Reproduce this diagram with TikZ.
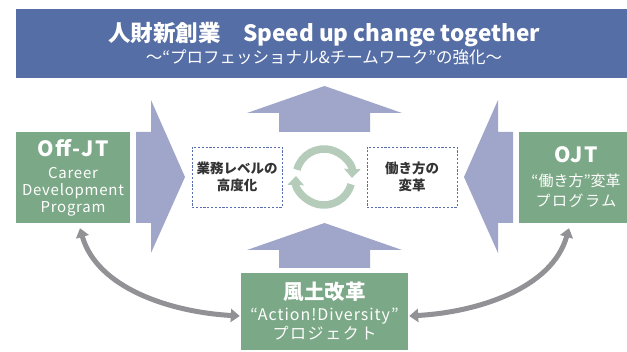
\documentclass[tikz,border=0pt]{standalone}
\usepackage{fontspec}
\setmainfont{Noto Sans CJK JP}
\usetikzlibrary{arrows.meta}
\definecolor{titleblue}{RGB}{86,110,166}
\definecolor{lav}{RGB}{160,166,202}
\definecolor{boxgreen}{RGB}{123,168,134}
\definecolor{ringgreen}{RGB}{181,204,186}
\definecolor{grayarr}{RGB}{145,145,150}
\definecolor{dashblue}{RGB}{90,110,175}
\definecolor{darktext}{RGB}{51,51,51}
\tikzset{
  greenbox/.style={fill=boxgreen, text=white, align=center, inner sep=0pt},
  dashbox/.style={draw=dashblue, line width=0.8pt, dash pattern=on 2.2pt off 1.6pt,
    minimum width=90pt, minimum height=60pt, align=center, text=darktext,
    font=\fontsize{13.5}{17}\selectfont\bfseries},
  blockarrow/.style={fill=lav},
  ringarrow/.style={draw=ringgreen, line width=7.5pt, -{Triangle[width=16pt,length=9pt]}},
  swoop/.style={draw=grayarr, line width=5pt, {Triangle[width=13pt,length=9pt]}-{Triangle[width=13pt,length=9pt]}},
}
\begin{document}
\begin{tikzpicture}[x=1pt,y=-1pt]
\useasboundingbox (0,0) rectangle (627,352);
\clip (0,0) rectangle (627,352);
% title banner
\node[fill=titleblue, text=white, align=center, minimum width=616pt, minimum height=69pt, inner sep=0pt,
  font=\fontsize{16.5}{21}\selectfont]
  (title) at (324,43.5)
  {{\fontsize{22.5}{24}\selectfont\bfseries 人財新創業\quad Speed up change together}\\[1pt]
   〜“プロフェッショナル\&チームワーク”の強化〜};
% block arrows
\fill[blockarrow] (136,132) -- (151,132) -- (151,100) -- (185,177) -- (151,253) -- (151,223) -- (136,223) -- cycle;
\fill[blockarrow] (513,132) -- (498,132) -- (498,100) -- (464,177) -- (498,253) -- (498,223) -- (513,223) -- cycle;
\fill[blockarrow] (279,132) -- (279,113) -- (247,113) -- (324.5,86) -- (402,113) -- (370,113) -- (370,132) -- cycle;
\fill[blockarrow] (279,268) -- (279,250) -- (247,250) -- (324.5,223) -- (402,250) -- (370,250) -- (370,268) -- cycle;
% green boxes
\node[greenbox, minimum width=114pt, minimum height=91pt,
  font=\fontsize{15}{17}\selectfont\addfontfeature{LetterSpace=5}] (offjt) at (73,177.5)
  {{\fontsize{21}{22}\selectfont\bfseries\addfontfeature{LetterSpace=7}Off-JT}\\[5pt]
   Career\\Development\\Program};
\node[greenbox, minimum width=114pt, minimum height=91pt,
  font=\fontsize{15}{20}\selectfont] (ojt) at (576,177.5)
  {{\fontsize{21}{22}\selectfont\bfseries\addfontfeature{LetterSpace=7}OJT}\\[4pt]
   “働き方”変革\\
   {\addfontfeature{LetterSpace=10}プログラム}};
\node[greenbox, minimum width=167pt, minimum height=77pt,
  font=\fontsize{16}{19.5}\selectfont] (env) at (324.5,311.5)
  {{\fontsize{20.5}{21}\selectfont\bfseries 風土改革}\\[1pt]
   {\addfontfeature{LetterSpace=6}“Action!Diversity”}\\
   {\addfontfeature{LetterSpace=10}プロジェクト}};
% dashed boxes
\node[dashbox] (lbox) at (237,177) {業務レベルの\\高度化};
\node[dashbox] (rbox) at (412,177) {働き方の\\変革};
% cycle ring
\coordinate (cyc) at (324,177);
\draw[ringarrow] ([shift={(-165:28)}]cyc) arc[start angle=-165, end angle=2, radius=28];
\draw[ringarrow] ([shift={(15:28)}]cyc) arc[start angle=15, end angle=182, radius=28];
% curved double arrows
\draw[swoop] ([shift={(7,5)}]offjt.south) .. controls (97,288) and (170,312) .. ([shift={(-1,4.5)}]env.west);
\draw[swoop] ([shift={(-7,5)}]ojt.south) .. controls (552,288) and (479,312) .. ([shift={(1,4.5)}]env.east);
\end{tikzpicture}
\end{document}
